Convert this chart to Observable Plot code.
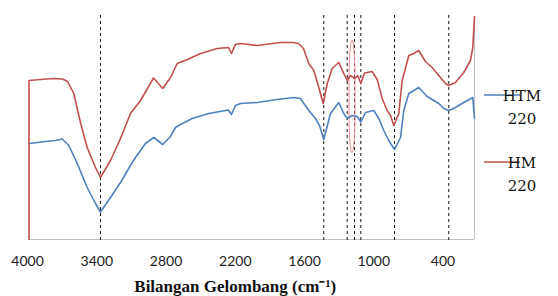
<!DOCTYPE html>
<html><head><meta charset="utf-8">
<script src="https://cdn.jsdelivr.net/npm/d3@7"></script>
<script src="https://cdn.jsdelivr.net/npm/@observablehq/plot@0.6"></script>
<style>body{margin:0;background:#fff;overflow:hidden;} svg{display:block;}</style>
</head><body><div id="chart"></div>
<script>
// HM 220 (red) – wavenumber (cm-1) and transmittance (arbitrary units)
const hmWave = [3987,3987,3887,3775,3697,3653,3599,3541,3483,3411,3368,3281,3194,3108,3021,2908,2828,2761,2703,2616,2501,2356,2259,2233,2198,2155,2010,1808,1693,1652,1609,1563,1519,1476,1438,1403,1360,1303,1260,1230,1202,1164,1138,1112,1080,1014,970,927,884,855,826,783,754,696,653,610,552,494,436,378,350,292,220,162,142,127];
const hmT    = [0,159,160,161,160.5,158,146,117,92,72,62,79,101,126,139,161.5,151,162,176,180,186,191,192,186,195,196,194,197,197,196,191,176,169,152,136,156,171,177,166,159,164,161,164,156,166.5,168,160,141,129,124,114,126,159,184,186,189,178,172,164,156,154,157,167,179,192,223];
// HTM 220 (blue)
const htmWave = [3983,3844,3757,3699,3642,3569,3483,3411,3368,3281,3194,3108,3064,2978,2906,2828,2761,2718,2674,2573,2429,2259,2233,2198,2155,2010,1837,1693,1635,1563,1505,1470,1433,1375,1303,1260,1230,1187,1143,1112,1072,1000,956,913,870,820,768,740,696,610,537,436,393,350,292,220,142,127];
const htmT    = [96,98,99,100.5,94,76,52,36,27.5,42,57,74,82,96,102,95,103,112,115,121,126,129.5,125,134,136,137,140,142,141,129,121,114,100,126,137,126,121,124,123,117.5,127,129,121,109,99,90,102,129,146,152,143,136,131,129,132,137,142,121];
const seriesNames = ["HTM 220", "HM 220"];
const seriesColors = ["#4f81bd", "#c0504d"];
const peakLines = [3368, 1433, 1230, 1167, 1112, 820, 350];
const xTicks = [4000, 3400, 2800, 2200, 1600, 1000, 400];
const markedBand = [{x1: 1210, x2: 1158, y1: 86, y2: 199}];

const htmRows = htmWave.map((w, i) => ({w, t: htmT[i]}));
const hmRows = hmWave.map((w, i) => ({w, t: hmT[i]}));
const dataEnd = 127;
const dataStart = 3983;

const chart = Plot.plot({
  width: 558,
  height: 296,
  marginLeft: 0, marginRight: 0, marginTop: 0, marginBottom: 57,
  x: {domain: [4000, 400], range: [27, 442.5]},
  y: {domain: [0, 230], range: [239, 9], axis: null},
  style: {fontFamily: "Lato, sans-serif", fontSize: "14px", color: "#222", background: "#fff"},
  marks: [
    Plot.ruleY([0], {x1: dataStart, x2: dataEnd, stroke: "#bfbfbf", strokeWidth: 1}),
    Plot.ruleX([dataEnd], {y1: 0, y2: 223, stroke: "#bfbfbf", strokeWidth: 1}),
    Plot.ruleX(peakLines, {y1: -1, y2: 226, stroke: "#111", strokeWidth: 1, strokeDasharray: "3,3"}),
    Plot.rect(markedBand, {x1: "x1", x2: "x2", y1: "y1", y2: "y2", rx: 3, ry: 40, fill: "none", stroke: "#f08c96", strokeWidth: 1}),
    Plot.line(htmRows, {x: "w", y: "t", stroke: seriesColors[0], strokeWidth: 1.6}),
    Plot.line(hmRows, {x: "w", y: "t", stroke: seriesColors[1], strokeWidth: 1.6}),
    Plot.axisX({ticks: xTicks, tickSize: 0, tickPadding: 17, tickFormat: d => String(d), fontSize: 14, fill: "#222"}),
    Plot.text(["Bilangan Gelombang (cm⁻¹)"], {x: 2200, y: -47, text: d => d, fontFamily: "'Liberation Serif', serif", fontWeight: "bold", fontSize: 17, fill: "#111"})
  ]
});
document.getElementById("chart").appendChild(chart);

// legend on the right
const svg = d3.select(chart);
const leg = [
  {name: ["HTM", "220"], color: seriesColors[0], y: 95},
  {name: ["HM", "220"], color: seriesColors[1], y: 162}
];
leg.forEach(l => {
  svg.append("line").attr("x1", 484).attr("x2", 520).attr("y1", l.y).attr("y2", l.y)
    .attr("stroke", l.color).attr("stroke-width", 1.6);
  const t = svg.append("text").attr("x", 522).attr("y", l.y + 6)
    .attr("font-family", "'DejaVu Serif', serif").attr("font-size", 15).attr("fill", "#111");
  t.append("tspan").attr("x", 522).text(l.name[0]);
  t.append("tspan").attr("x", 522).attr("dy", 22.5).text(l.name[1]);
});
</script>
</body></html>
